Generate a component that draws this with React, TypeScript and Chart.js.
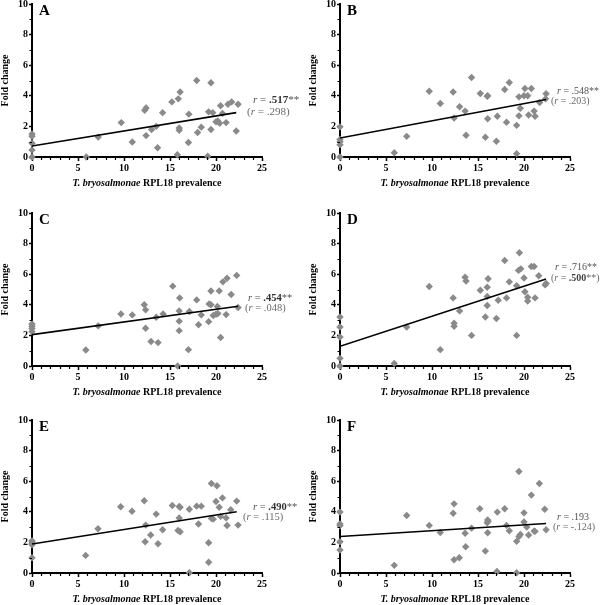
import React, { useEffect, useRef } from "react";
import { Chart, registerables } from "chart.js";
Chart.register(...registerables);

const SERIF = "'Liberation Serif', 'Times New Roman', serif";

// ---------- data ----------
const panelLetters = ["A", "B", "C", "D", "E", "F"];
const xTickValues = [0, 5, 10, 15, 20, 25];
const yTickValues = [0, 2, 4, 6, 8, 10];
const xMinorValues = [1, 2, 3, 4, 6, 7, 8, 9, 11, 12, 13, 14, 16, 17, 18, 19, 21, 22, 23, 24];
const yMinorValues = [1, 3, 5, 7, 9];
const xTitleItalic = "T. bryosalmonae";
const xTitleRest = " RPL18 prevalence";
const yTitle = "Fold change";

const xA = [0, 0, 0, 0, 0, 5.9, 7.2, 9.7, 10.9, 12.25, 12.4, 12.4, 13.0, 13.5, 13.65, 14.2, 15.2, 15.8, 15.9, 16.0, 16.0, 16.1, 17.0, 17.05, 17.9, 18.0, 18.4, 19.1, 19.2, 19.45, 19.45, 19.65, 20.0, 20.2, 20.4, 20.5, 20.7, 21.1, 21.3, 21.7, 22.2, 22.4];
const yA = [1.5, 1.35, 0.9, 0.45, 0.0, 0.0, 1.3, 2.25, 0.98, 3.05, 3.2, 1.4, 1.8, 2.0, 0.6, 2.9, 3.6, 0.15, 3.8, 1.9, 1.75, 4.25, 0.95, 2.8, 5.0, 1.6, 1.95, 0.05, 2.95, 4.85, 1.8, 2.9, 2.3, 2.35, 2.2, 3.35, 2.85, 2.25, 3.45, 3.6, 1.7, 3.45];

const xB = [0, 0, 0, 0, 0, 5.9, 7.25, 9.7, 10.9, 12.3, 12.4, 13.0, 13.6, 13.7, 14.3, 15.25, 15.8, 16.0, 16.05, 16.05, 17.0, 17.1, 17.9, 18.1, 18.4, 19.2, 19.2, 19.45, 19.45, 19.6, 20.0, 20.1, 20.4, 20.5, 20.8, 21.1, 21.2, 21.7, 22.35, 22.4];
const yB = [1.97, 1.14, 1.0, 0.8, 0, 0.28, 1.35, 4.3, 3.5, 4.25, 2.55, 3.28, 3.0, 1.42, 5.2, 4.15, 1.29, 3.97, 4.0, 2.5, 1.03, 2.66, 4.41, 2.27, 4.87, 2.07, 0.22, 3.93, 2.69, 3.19, 4.0, 4.48, 4.0, 2.75, 4.48, 3.0, 2.66, 3.56, 3.8, 4.13];

const xC = [0, 0, 0, 0, 5.85, 7.2, 9.67, 10.9, 12.2, 12.35, 12.35, 12.94, 13.5, 13.7, 14.25, 15.3, 15.84, 16.0, 16.0, 16.0, 16.05, 17.0, 17.1, 17.9, 18.1, 18.4, 19.2, 19.25, 19.45, 19.45, 19.7, 20.0, 20.15, 20.2, 20.35, 20.5, 20.75, 21.1, 21.2, 21.65, 22.25, 22.4];
const yC = [2.75, 2.6, 2.45, 2.25, 1.05, 2.62, 3.4, 3.34, 4.0, 3.67, 2.47, 1.6, 3.19, 1.53, 3.4, 5.22, 0.0, 3.6, 2.93, 2.31, 4.45, 1.07, 3.56, 4.32, 2.7, 3.34, 2.9, 4.06, 4.0, 4.9, 3.3, 3.38, 3.89, 3.43, 4.91, 1.86, 5.5, 3.36, 5.74, 4.67, 5.92, 3.82];

const xD = [0, 0, 0, 0, 0, 5.9, 7.25, 9.7, 10.9, 12.3, 12.4, 12.4, 13.0, 13.6, 13.7, 14.3, 15.25, 15.8, 16.0, 16.0, 16.0, 16.1, 17.0, 17.2, 17.9, 18.1, 18.4, 19.2, 19.2, 19.4, 19.5, 19.65, 20.0, 20.1, 20.4, 20.4, 20.8, 21.1, 21.2, 21.6, 22.3, 22.4];
const yD = [3.2, 2.55, 1.9, 0.5, 0, 0.17, 2.55, 5.2, 1.07, 4.45, 2.8, 2.6, 3.6, 5.8, 5.55, 2.0, 4.95, 3.2, 4.55, 3.95, 5.15, 5.7, 3.1, 4.3, 6.9, 4.45, 5.5, 2.0, 5.25, 6.25, 7.4, 6.35, 5.75, 4.85, 4.5, 4.25, 6.5, 6.5, 4.45, 5.9, 5.3, 5.4];

const xE = [0, 0, 0, 0, 0, 5.83, 7.17, 9.64, 10.87, 12.2, 12.36, 12.3, 12.9, 13.5, 13.7, 14.2, 15.25, 15.87, 16.0, 16.0, 16.1, 16.1, 17.1, 17.1, 17.9, 18.1, 18.4, 19.2, 19.2, 19.5, 19.5, 19.7, 20.0, 20.1, 20.35, 20.5, 20.7, 21.1, 21.2, 21.6, 22.25, 22.4];
const yE = [2.1, 2.05, 1.95, 1.85, 1.0, 1.15, 2.89, 4.33, 4.04, 4.72, 3.13, 2.04, 2.48, 3.85, 1.91, 2.83, 4.41, 2.78, 3.59, 4.35, 4.3, 2.7, 4.17, 0.02, 4.37, 3.2, 4.37, 1.98, 0.7, 5.85, 3.57, 3.52, 4.67, 5.7, 4.3, 3.7, 4.91, 3.6, 3.1, 4.13, 4.7, 3.13];

const xF = [0, 0, 0, 0, 0, 5.9, 7.25, 9.7, 10.9, 12.3, 12.4, 12.4, 12.97, 13.6, 13.66, 14.3, 15.2, 15.8, 16.0, 16.05, 16.05, 16.1, 17.1, 17.06, 17.9, 18.1, 18.4, 19.2, 19.2, 19.45, 19.45, 19.6, 20.0, 20.0, 20.3, 20.5, 20.8, 21.1, 21.2, 21.67, 22.25, 22.4];
const yF = [3.98, 3.2, 3.09, 2.04, 1.5, 0.5, 3.76, 3.11, 2.65, 3.91, 4.52, 0.87, 1.0, 2.6, 1.72, 2.93, 4.2, 1.43, 3.28, 3.46, 2.63, 3.39, 3.98, 0.1, 4.2, 3.11, 2.76, 2.07, 0.02, 6.63, 2.39, 2.52, 3.93, 3.33, 3.0, 2.48, 5.09, 2.74, 2.72, 5.85, 4.17, 2.83];

const xSeries = [xA, xB, xC, xD, xE, xF];
const ySeries = [yA, yB, yC, yD, yE, yF];

// regression lines: value at x = 0 and value at fitEndX
const fitStart = [0.72, 1.24, 2.05, 1.29, 1.89, 2.39];
const fitEnd = [2.9, 3.76, 3.91, 5.68, 4.0, 3.24];
const fitEndX = [22.2, 22.4, 22.4, 22.4, 22.25, 22.4];

const rMain = [".517", ".548", ".454", ".716", ".490", ".193"];
const rMainStars = ["**", "**", "**", "**", "**", ""];
const rPartial = [".298", ".203", ".048", ".500", ".115", "-.124"];
const rPartialStars = ["", "", "", "**", "", ""];
const rMainBold = [true, false, true, false, true, false];
const rPartialBold = [false, false, false, true, false, false];

// ---------- layout (page pixels) ----------
const LAYOUT = [
  { L: 32, T: 4, R: 262, B: 157, t1: [-9, 96], t2: [-15, 108], fs: 11 },
  { L: 340, T: 4, R: 570, B: 157, t1: [-13, 87], t2: [-19, 97], fs: 10 },
  { L: 32, T: 213, R: 262, B: 366, t1: [-14, 85], t2: [-17, 95], fs: 10.5 },
  { L: 340, T: 213, R: 570, B: 366, t1: [-15, 54], t2: [-19, 65], fs: 10 },
  { L: 32, T: 420, R: 262, B: 573, t1: [-9, 87], t2: [-19, 97], fs: 10.5 },
  { L: 340, T: 420, R: 570, B: 573, t1: [-13, 97], t2: [-17, 107], fs: 10 },
];
const Y_W = 33, P_L = 2, P_T = 15, P_R = 45, X_H = 32, P_B = 8;

type Seg = { t: string; f: string; c: string };
function drawSegs(ctx: CanvasRenderingContext2D, segs: Seg[], x: number, y: number) {
  let cx = x;
  ctx.textAlign = "left";
  ctx.textBaseline = "middle";
  for (const s of segs) {
    ctx.font = s.f;
    ctx.fillStyle = s.c;
    ctx.fillText(s.t, cx, y);
    cx += ctx.measureText(s.t).width;
  }
}

function makeDecor(i: number) {
  const lay = LAYOUT[i];
  return {
    id: "decor" + i,
    afterDraw(chart: any) {
      const { ctx, chartArea: ca, scales } = chart;
      const xs = scales.x, ys = scales.y;
      ctx.save();
      // minor ticks
      ctx.strokeStyle = "#000";
      ctx.lineWidth = 1.2;
      ctx.beginPath();
      xMinorValues.forEach((v) => {
        const p = Math.round(xs.getPixelForValue(v)) + 0.5;
        ctx.moveTo(p, ca.bottom);
        ctx.lineTo(p, ca.bottom + 3);
      });
      yMinorValues.forEach((v) => {
        const p = Math.round(ys.getPixelForValue(v)) + 0.5;
        ctx.moveTo(ca.left, p);
        ctx.lineTo(ca.left - 2.5, p);
      });
      ctx.stroke();

      // x axis title (mixed italic)
      const fI = `italic bold 10px ${SERIF}`;
      const fR = `bold 10px ${SERIF}`;
      ctx.font = fI;
      const w1 = ctx.measureText(xTitleItalic).width;
      ctx.font = fR;
      const w2 = ctx.measureText(xTitleRest).width;
      const cxm = (ca.left + ca.right) / 2;
      drawSegs(ctx, [
        { t: xTitleItalic, f: fI, c: "#000" },
        { t: xTitleRest, f: fR, c: "#000" },
      ], cxm - (w1 + w2) / 2, ca.bottom + 26);

      // panel letter
      ctx.font = `bold 15px ${SERIF}`;
      ctx.fillStyle = "#000";
      ctx.textAlign = "left";
      ctx.textBaseline = "alphabetic";
      ctx.fillText(panelLetters[i], ca.left + 7, ca.top + 10.5);

      // r annotations
      const fs = lay.fs;
      const fN = `${fs}px ${SERIF}`;
      const fIt = `italic ${fs}px ${SERIF}`;
      const fB = `bold ${fs}px ${SERIF}`;
      const c1 = "#505050", c1b = "#333";
      const c2 = "#6a6a6a", c2b = "#444";
      drawSegs(ctx, [
        { t: "r", f: fIt, c: c1 },
        { t: " = ", f: fN, c: c1 },
        { t: rMain[i], f: rMainBold[i] ? fB : fN, c: rMainBold[i] ? c1b : c1 },
        { t: rMainStars[i], f: fN, c: c1 },
      ], ca.right + lay.t1[0], ca.top + lay.t1[1]);
      drawSegs(ctx, [
        { t: "(", f: fN, c: c2 },
        { t: "r", f: fIt, c: c2 },
        { t: " = ", f: fN, c: c2 },
        { t: rPartial[i], f: rPartialBold[i] ? fB : fN, c: rPartialBold[i] ? c2b : c2 },
        { t: rPartialStars[i], f: fN, c: c2 },
        { t: ")", f: fN, c: c2 },
      ], ca.right + lay.t2[0], ca.top + lay.t2[1]);
      ctx.restore();
    },
  };
}

function Panel({ i }: { i: number }) {
  const ref = useRef<HTMLCanvasElement | null>(null);
  const lay = LAYOUT[i];
  const cl = lay.L - Y_W - P_L;
  const ct = lay.T - P_T;
  const cw = Y_W + P_L + (lay.R - lay.L) + P_R;
  const ch = P_T + (lay.B - lay.T) + X_H + P_B;

  useEffect(() => {
    if (!ref.current) return;
    const tickFont = { family: SERIF, size: 10, weight: "bold" as const };
    const chart = new Chart(ref.current, {
      type: "scatter",
      data: {
        datasets: [
          {
            type: "line",
            data: [
              { x: 0, y: fitStart[i] },
              { x: fitEndX[i], y: fitEnd[i] },
            ],
            borderColor: "#000",
            borderWidth: 1.6,
            pointRadius: 0,
            fill: false,
            order: 0,
          } as any,
          {
            data: xSeries[i].map((x, k) => ({ x, y: ySeries[i][k] })),
            pointStyle: "rectRot",
            pointRadius: 3.7,
            backgroundColor: "#8a8a8a",
            borderWidth: 0,
            clip: false,
            order: 1,
          } as any,
        ],
      },
      options: {
        animation: false,
        responsive: false,
        devicePixelRatio: 1,
        events: [],
        layout: { padding: { left: P_L, top: P_T, right: P_R, bottom: P_B } },
        plugins: { legend: { display: false }, tooltip: { enabled: false } },
        scales: {
          x: {
            type: "linear",
            min: 0,
            max: 25,
            afterBuildTicks: (s: any) => {
              s.ticks = xTickValues.map((v) => ({ value: v }));
            },
            afterFit: (s: any) => {
              s.height = X_H;
            },
            ticks: { font: tickFont, color: "#000", padding: 1, maxRotation: 0, autoSkip: false },
            grid: { drawOnChartArea: false, tickLength: 4, tickWidth: 1.5, tickColor: "#000" },
            border: { color: "#000", width: 2 },
          },
          y: {
            type: "linear",
            min: 0,
            max: 10,
            afterBuildTicks: (s: any) => {
              s.ticks = yTickValues.map((v) => ({ value: v }));
            },
            afterFit: (s: any) => {
              s.width = Y_W;
            },
            ticks: { font: tickFont, color: "#000", padding: 1, autoSkip: false },
            grid: { drawOnChartArea: false, tickLength: 3, tickWidth: 1.5, tickColor: "#000" },
            border: { color: "#000", width: 2 },
            title: {
              display: true,
              text: yTitle,
              font: { family: SERIF, size: 10, weight: "bold" },
              color: "#000",
              padding: 0,
            },
          },
        },
      } as any,
      plugins: [makeDecor(i)],
    });
    return () => chart.destroy();
  }, []);

  return (
    <canvas
      ref={ref}
      width={cw}
      height={ch}
      style={{ position: "absolute", left: cl, top: ct, width: cw, height: ch }}
    />
  );
}

export default function App() {
  return (
    <div
      style={{
        position: "absolute",
        left: 0,
        top: 0,
        width: 600,
        height: 605,
        background: "#fff",
        overflow: "hidden",
      }}
    >
      {[0, 1, 2, 3, 4, 5].map((i) => (
        <Panel key={i} i={i} />
      ))}
    </div>
  );
}
